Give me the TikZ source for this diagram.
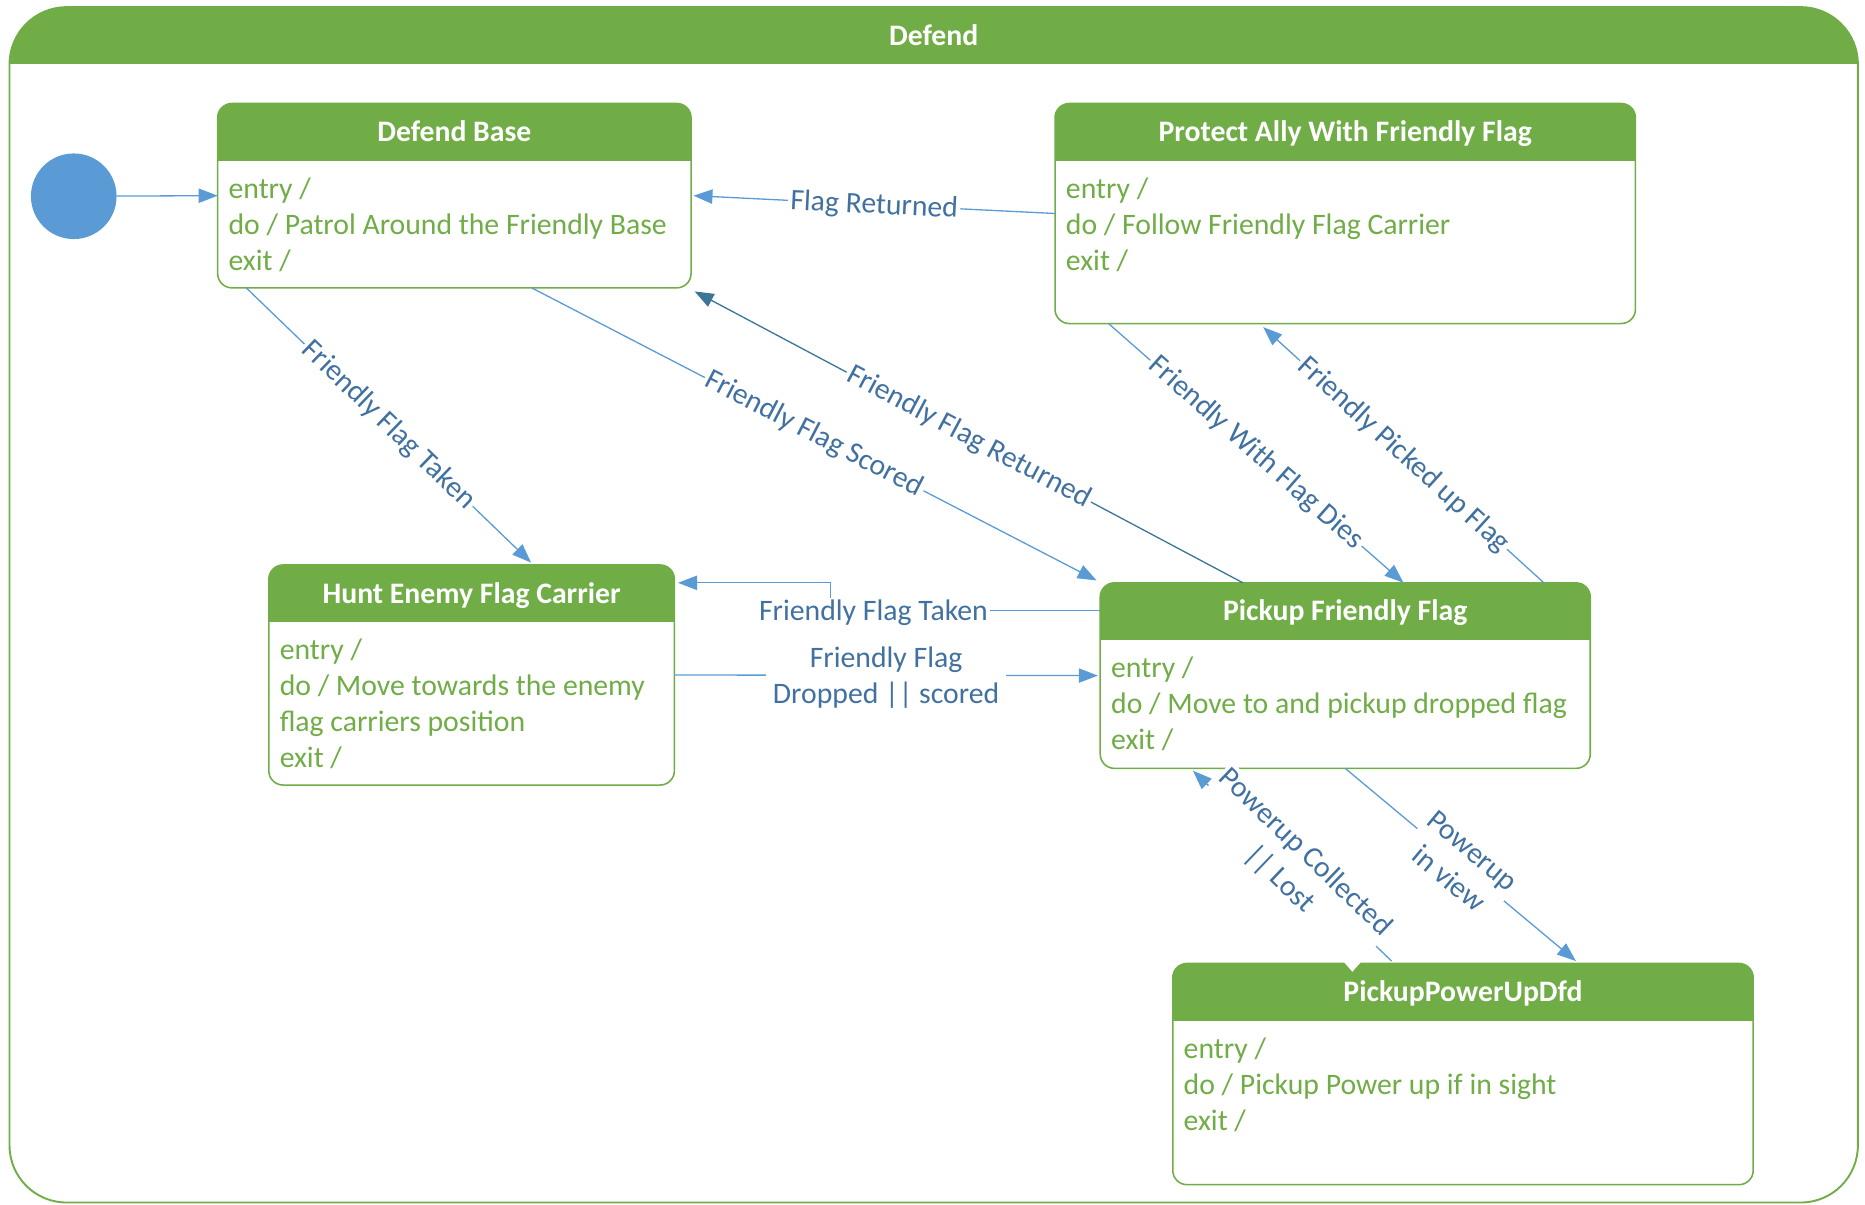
\documentclass[tikz,border=0pt]{standalone}
\usepackage{fontspec}
\setmainfont{Carlito}
\usetikzlibrary{arrows.meta,calc}

\definecolor{stategreen}{RGB}{112,173,71}
\definecolor{flowblue}{RGB}{91,155,213}
\definecolor{flowteal}{RGB}{58,118,150}
\definecolor{labelblue}{RGB}{65,113,160}

% State box: #1 name, (#2,#3) top left, (#4,#5) bottom right, #6 title, #7 body lines
\newcommand\statebox[7]{%
  \node[stateshape, minimum width={(#4-#2)*1pt}, minimum height={(#5-#3)*1pt}]
    (#1) at ({(#2+#4)/2},{(#3+#5)/2}) {};
  \begin{scope}
    \clip[rounded corners=12pt] (#1.north west) rectangle (#1.south east);
    \fill[stategreen] (#1.north west) rectangle ([yshift=-48pt]#1.north east);
  \end{scope}
  \draw[stategreen, line width=1.3pt, rounded corners=12pt]
    (#1.north west) rectangle (#1.south east);
  \node[titletext, anchor=base] (#1-title) at ([yshift=-32pt]#1.north) {#6};
  \foreach \bodyline [count=\i from 0] in {#7}
    \node[bodytext, anchor=base west] (#1-line\i)
      at ([xshift=9pt,yshift={-79.5pt-30.3pt*\i}]#1.north west) {\bodyline};
}

\begin{document}
\begin{tikzpicture}[x=1pt, y=-1pt,
  every node/.style={font=\fontsize{25}{30}\selectfont},
  stateshape/.style={fill=white, inner sep=0pt, outer sep=0pt},
  titletext/.style={text=white, font=\fontsize{25}{30}\selectfont\bfseries, inner sep=0pt},
  bodytext/.style={text=stategreen, inner sep=0pt},
  flow/.style={draw=flowblue, line width=1.1pt,
    -{Triangle[length=16pt, width=12pt]}},
  flowdark/.style={flow, draw=flowteal},
  lbl/.style={text=labelblue, fill=white, inner sep=2pt, align=center,
    font=\fontsize{25}{31}\selectfont},
]
\useasboundingbox (0,0) rectangle (1568,1013);

% outer composite state
\node[inner sep=0pt, outer sep=0pt, minimum width=1554pt, minimum height=1005pt]
  (defend) at (785,508.5) {};
\begin{scope}
  \clip[rounded corners=48pt] (defend.north west) rectangle (defend.south east);
  \fill[stategreen] (defend.north west) rectangle ([yshift=-48pt]defend.north east);
\end{scope}
\draw[stategreen, line width=1.6pt, rounded corners=48pt]
  (defend.north west) rectangle (defend.south east);
\node[titletext, anchor=base] (defend-title) at ([yshift=-32pt]defend.north) {Defend};

% initial pseudo state
\node[circle, fill=flowblue, minimum size=72pt, inner sep=0pt] (init) at (62,165) {};

% states
\statebox{db}{183}{87}{581}{242}{Defend Base}
  {entry /, do / Patrol Around the Friendly Base, exit /}
\statebox{pa}{887}{87}{1375}{272}{Protect Ally With Friendly Flag}
  {entry /, do / Follow Friendly Flag Carrier, exit /}
\statebox{he}{226}{475}{567}{660}{Hunt Enemy Flag Carrier}
  {entry /, do / Move towards the enemy, flag carriers position, exit /}
\statebox{pf}{925}{490}{1337}{646}{Pickup Friendly Flag}
  {entry /, do / Move to and pickup dropped flag, exit /}
\statebox{pu}{986}{810}{1474}{996}{PickupPowerUpDfd}
  {entry /, do / Pickup Power up if in sight, exit /}
\fill[white] ([xshift=-100pt,yshift=1pt]pu.north) -- ([xshift=-86pt,yshift=1pt]pu.north)
  -- ([xshift=-93pt,yshift=-7pt]pu.north) -- cycle;

% transitions
\draw[flow] (init) -- (db.west);
\draw[flow] (pa.west) -- node[lbl, sloped, yshift=-1pt] (t-fr) {Flag Returned} ([xshift=2pt]db.east);
\draw[flow] ([xshift=24pt]db.south west)
  -- node[lbl, sloped] (t-fft) {Friendly Flag Taken} ([xshift=50pt,yshift=2pt]he.north);
\draw[flow] ([xshift=65pt]db.south)
  -- node[lbl, sloped] (t-ffs) {Friendly Flag Scored} ([xshift=-3pt,yshift=2pt]pf.north west);
\draw[flowdark] ([xshift=-86pt]pf.north)
  -- node[lbl, sloped] (t-ffr) {Friendly Flag Returned} ([xshift=3pt,yshift=-3pt]db.south east);
\draw[flow] ([xshift=45pt]pa.south west)
  -- node[lbl, sloped] (t-fwd) {Friendly With Flag Dies} ([xshift=49pt]pf.north);
\draw[flow] ([xshift=-39pt]pf.north east)
  -- node[lbl, sloped] (t-fpf) {Friendly Picked up Flag} ([xshift=-69pt,yshift=-3pt]pa.south);
\draw[flow] ([yshift=-23pt]pf.north west) -- ++(-227,0)
  node[lbl, pos=0.84, yshift=-2pt, inner ysep=1pt] (t-fft2) {Friendly Flag Taken}
  |- ([xshift=3pt,yshift=-15pt]he.north east);
\draw[flow] (he.east)
  -- node[lbl, inner xsep=6pt, yshift=-2pt] (t-ffd) {Friendly Flag\\Dropped || scored} ([xshift=-2pt]pf.west);
\draw[flow] (pf.south)
  -- node[lbl, sloped] (t-piv) {Powerup\\in view} ([xshift=95pt,yshift=2pt]pu.north);
\draw[flow] ([xshift=-60pt,yshift=2pt]pu.north)
  -- node[lbl, sloped] (t-pcl) {Powerup Collected\\|| Lost} ([xshift=78pt,yshift=-2pt]pf.south west);
\end{tikzpicture}
\end{document}
